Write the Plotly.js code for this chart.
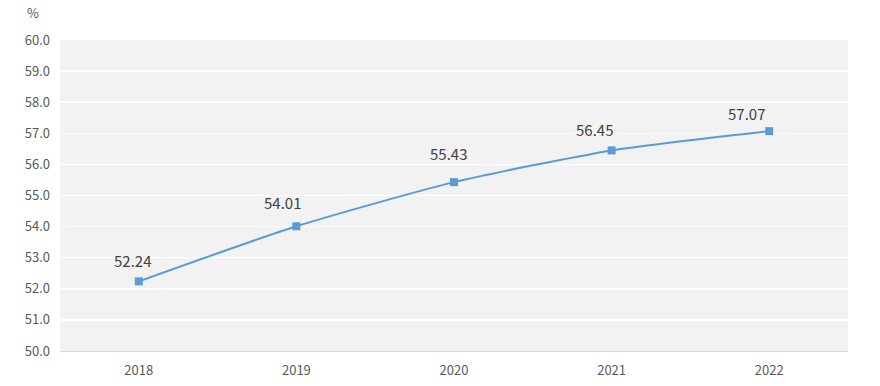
<!DOCTYPE html>
<html>
<head>
<meta charset="utf-8">
<script src="https://cdn.plot.ly/plotly-3.0.1.min.js"></script>
<style>html,body{margin:0;padding:0;background:#fff;}#chart{width:880px;height:386px;}</style>
</head>
<body>
<div id="chart"></div>
<script>
var years = ['2018', '2019', '2020', '2021', '2022'];
var values = [52.24, 54.01, 55.43, 56.45, 57.07];
var labels = ['52.24', '54.01', '55.43', '56.45', '57.07'];
var yTicks = [50, 51, 52, 53, 54, 55, 56, 57, 58, 59, 60];

var font = 'Noto Sans CJK SC, Noto Sans, sans-serif';
var trace = {
  x: years,
  y: values,
  type: 'scatter',
  mode: 'lines+markers',
  line: {color: '#5b9bd5', width: 2, shape: 'spline', smoothing: 0.6},
  marker: {symbol: 'square', size: 8, color: '#5b9bd5'},
  hoverinfo: 'skip'
};
// label placement offsets (pixels) as in the original chart
var labelShiftX = [-6, -14, -6, -17, -23];
var labelShiftY = [21, 23.5, 28.5, 21, 18];
var annotations = years.map(function (yr, i) {
  return {x: i, y: values[i], text: labels[i], showarrow: false, xanchor: 'center', yanchor: 'middle',
    xshift: labelShiftX[i], yshift: labelShiftY[i],
    font: {family: font, size: 15, color: '#404040'}};
});
annotations.push({xref: 'paper', yref: 'paper', x: -0.034, y: 1.09, text: '%', showarrow: false, xanchor: 'center', yanchor: 'middle',
  font: {family: font, size: 13, color: '#595959'}});
var layout = {
  width: 880, height: 386,
  margin: {l: 60, r: 32, t: 40, b: 35},
  paper_bgcolor: '#ffffff',
  plot_bgcolor: '#f2f2f2',
  showlegend: false,
  font: {family: font, color: '#595959', size: 13},
  xaxis: {type: 'category', range: [-0.5, 4.5], showgrid: false, zeroline: false, showline: true, linecolor: '#d9d9d9', linewidth: 1,
    ticks: '', ticklabelstandoff: 7, tickfont: {family: font, size: 13, color: '#595959'}, fixedrange: true},
  yaxis: {range: [50, 60], tickvals: yTicks, ticktext: yTicks.map(function (v) { return v.toFixed(1); }), showgrid: true, gridcolor: '#ffffff', gridwidth: 1.5,
    zeroline: false, showline: false, ticks: '', ticklabelstandoff: 9, tickfont: {family: font, size: 13, color: '#595959'}, fixedrange: true},
  annotations: annotations
};
Plotly.newPlot('chart', [trace], layout, {displayModeBar: false, staticPlot: true});
</script>
</body>
</html>
